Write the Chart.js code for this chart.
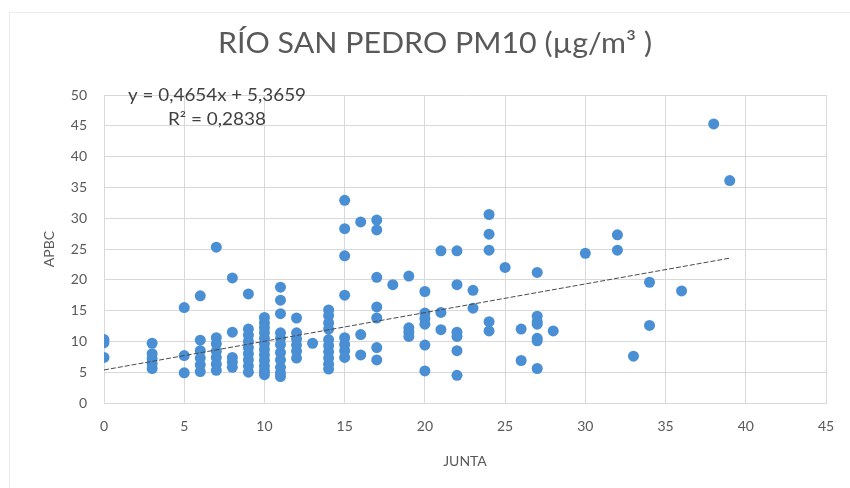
<!DOCTYPE html>
<html>
<head>
<meta charset="utf-8">
<script src="https://cdn.jsdelivr.net/npm/chart.js@4"></script>
<style>
  html, body { margin: 0; padding: 0; background: #ffffff; }
  #wrap { position: relative; width: 850px; height: 488px; overflow: hidden; }
  #frame { position: absolute; left: 9px; top: 12px; width: 900px; height: 500px;
           border-left: 1px solid #ececec; border-top: 1px solid #ececec; }
  canvas { position: absolute; left: 0; top: 0; }
</style>
</head>
<body>
<div id="wrap">
  <div id="frame"></div>
  <canvas id="c" width="850" height="488"></canvas>
</div>
<script>
// ---- data ----
const titleText = 'RÍO SAN PEDRO PM10 (µg/m³ )';
const xAxisTitle = 'JUNTA';
const yAxisTitle = 'APBC';
const xTicks = [0, 5, 10, 15, 20, 25, 30, 35, 40, 45];
const yTicks = [0, 5, 10, 15, 20, 25, 30, 35, 40, 45, 50];

const junta = [
  0, 0, 0,
  3, 3, 3, 3, 3,
  5, 5, 5,
  6, 6, 6, 6, 6, 6,
  7, 7, 7, 7, 7, 7, 7,
  8, 8, 8, 8, 8,
  9, 9, 9, 9, 9, 9, 9, 9, 9,
  10, 10, 10, 10, 10, 10, 10, 10, 10, 10, 10, 10,
  11, 11, 11, 11, 11, 11, 11, 11, 11, 11, 11,
  12, 12, 12, 12, 12, 12,
  13,
  14, 14, 14, 14, 14, 14, 14, 14, 14, 14,
  15, 15, 15, 15, 15, 15, 15, 15,
  16, 16, 16,
  17, 17, 17, 17, 17, 17, 17,
  18,
  19, 19, 19, 19,
  20, 20, 20, 20, 20, 20,
  21, 21, 21,
  22, 22, 22, 22, 22, 22,
  23, 23,
  24, 24, 24, 24, 24,
  25,
  26, 26,
  27, 27, 27, 27, 27, 27, 27,
  28,
  30,
  32, 32,
  33,
  34, 34,
  36,
  38,
  39
];
const apbc = [
  10.3, 9.8, 7.4,
  9.7, 8.0, 7.2, 6.4, 5.6,
  15.5, 7.7, 4.9,
  17.4, 10.2, 8.5, 7.3, 6.2, 5.1,
  25.3, 10.6, 9.6, 8.4, 7.4, 6.3, 5.3,
  20.3, 11.5, 7.4, 6.6, 5.8,
  17.7, 12.0, 11.0, 10.0, 9.0, 8.0, 7.0, 6.0, 5.0,
  13.9, 13.0, 12.2, 11.4, 10.5, 9.6, 8.7, 7.8, 6.9, 6.0, 5.2, 4.6,
  18.8, 16.7, 14.5, 11.4, 10.5, 9.5, 8.2, 7.0, 5.8, 4.9, 4.3,
  13.8, 11.4, 10.4, 9.4, 8.4, 7.3,
  9.7,
  15.1, 14.2, 13.0, 12.0, 10.3, 9.3, 8.3, 7.3, 6.3, 5.5,
  32.9, 28.3, 23.9, 17.5, 10.6, 9.5, 8.5, 7.4,
  29.4, 11.1, 7.8,
  29.7, 28.1, 20.4, 15.6, 13.8, 9.0, 7.0,
  19.2,
  20.6, 12.2, 11.5, 10.8,
  18.1, 14.6, 13.7, 12.8, 9.4, 5.2,
  24.7, 14.7, 11.9,
  24.7, 19.2, 11.5, 10.8, 8.5, 4.5,
  18.3, 15.4,
  30.6, 27.4, 24.8, 13.2, 11.7,
  22.0,
  12.0, 6.9,
  21.2, 14.1, 13.2, 12.8, 10.5, 10.1, 5.6,
  11.7,
  24.3,
  27.3, 24.8,
  7.6,
  19.6, 12.6,
  18.2,
  45.3,
  36.1
];

// trendline as displayed in the chart
const trendSlope = 0.4654;
const trendIntercept = 5.3659;
const trendRange = [0, 39];
const equationLines = ['y = 0,4654x + 5,3659', 'R² = 0,2838'];

// ---- build chart ----
const FONT = 'Lato, "Open Sans", "DejaVu Sans", sans-serif';
const points = junta.map((x, i) => ({ x: x, y: apbc[i] }));
const trend = trendRange.map(x => ({ x: x, y: trendSlope * x + trendIntercept }));

function drawFitted(ctx, text, cx, baseY, font, color, targetWidth) {
  ctx.save();
  ctx.font = font;
  ctx.fillStyle = color;
  ctx.textAlign = 'center';
  ctx.textBaseline = 'alphabetic';
  const w = ctx.measureText(text).width;
  const s = targetWidth / w;
  ctx.translate(cx, baseY);
  ctx.scale(s, 1);
  ctx.fillText(text, 0, 0);
  ctx.restore();
}

const textPlugin = {
  id: 'texts',
  afterDraw(chart) {
    const ctx = chart.ctx;
    drawFitted(ctx, titleText, 435, 53, '28px ' + FONT, '#595959', 434);
    drawFitted(ctx, equationLines[0], 217, 101, '17px ' + FONT, '#404040', 178);
    drawFitted(ctx, equationLines[1], 217, 125, '17px ' + FONT, '#404040', 98);
  }
};

new Chart(document.getElementById('c'), {
  type: 'scatter',
  data: {
    datasets: [
      {
        label: 'APBC',
        data: points,
        pointRadius: 5.5,
        pointHoverRadius: 5.5,
        pointBackgroundColor: '#4A8FD4',
        pointBorderColor: '#4A8FD4',
        pointBorderWidth: 0,
        order: 2
      },
      {
        type: 'line',
        label: 'Lineal',
        data: trend,
        borderColor: '#4a4a4a',
        borderWidth: 1,
        borderDash: [5, 2],
        pointRadius: 0,
        fill: false,
        order: 1
      }
    ]
  },
  options: {
    responsive: false,
    animation: false,
    devicePixelRatio: 1,
    layout: { padding: { left: 0, right: 24, top: 95, bottom: 0 } },
    plugins: {
      legend: { display: false },
      tooltip: { enabled: false },
      title: { display: false }
    },
    scales: {
      x: {
        type: 'linear',
        min: 0, max: 45,
        afterBuildTicks(scale) { scale.ticks = xTicks.map(v => ({ value: v })); },
        afterFit(scale) { scale.height = 85; },
        grid: { color: '#d9d9d9', lineWidth: 1, drawTicks: false },
        border: { color: '#d9d9d9' },
        ticks: { color: '#595959', font: { family: FONT, size: 14 }, padding: 15 },
        title: {
          display: true, text: xAxisTitle, color: '#595959',
          font: { family: FONT, size: 14 }, padding: { top: 0, bottom: 18 }
        }
      },
      y: {
        type: 'linear',
        min: 0, max: 50,
        afterBuildTicks(scale) { scale.ticks = yTicks.map(v => ({ value: v })); },
        afterFit(scale) { scale.width = 104; },
        grid: { color: '#d9d9d9', lineWidth: 1, drawTicks: false },
        border: { color: '#d9d9d9' },
        ticks: { color: '#595959', font: { family: FONT, size: 14 }, padding: 17 },
        title: {
          display: true, text: yAxisTitle, color: '#595959',
          font: { family: FONT, size: 14 }, padding: { top: 41, bottom: 0 }
        }
      }
    }
  },
  plugins: [textPlugin]
});
</script>
</body>
</html>
